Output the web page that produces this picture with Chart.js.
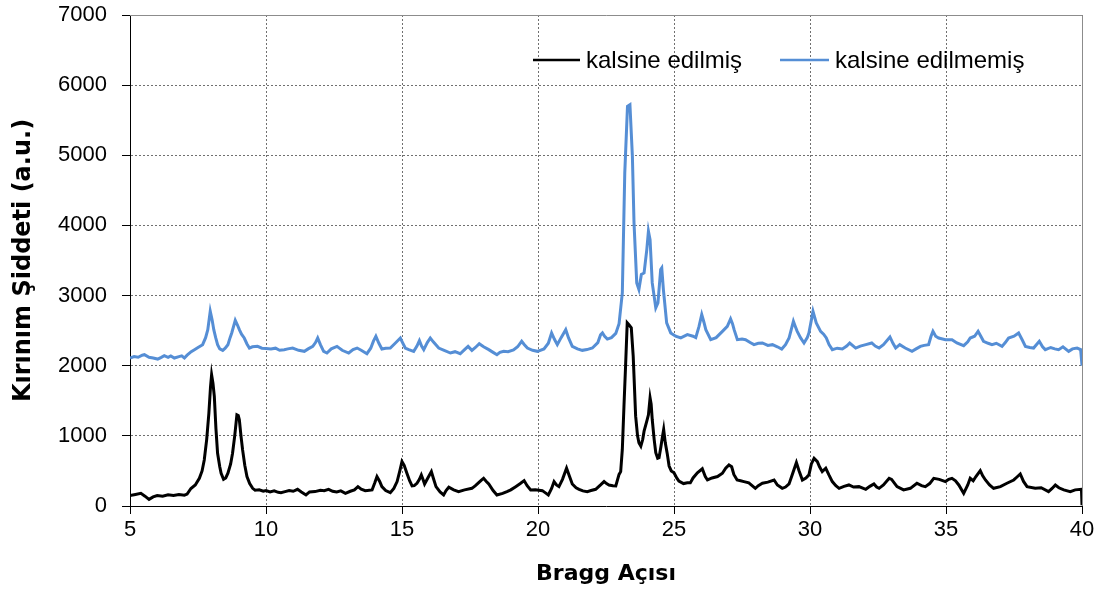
<!DOCTYPE html>
<html>
<head>
<meta charset="utf-8">
<title>XRD</title>
<script src="https://cdn.jsdelivr.net/npm/chart.js@4.4.1/dist/chart.umd.min.js"></script>
<style>
    html, body { margin: 0; padding: 0; background: #fff; }
    #wrap { width: 1101px; height: 592px; }
</style>
</head>
<body>
<div id="wrap"><canvas id="xrd" width="1101" height="592"></canvas></div>
<script>
const seriesNames = ["kalsine edilmiş", "kalsine edilmemiş"];
const xTicks = [5, 10, 15, 20, 25, 30, 35, 40];
const yTicks = [0, 1000, 2000, 3000, 4000, 5000, 6000, 7000];

// kalsine edilmiş (black)
const calcinedX = [5.0, 5.2, 5.4, 5.55, 5.7, 5.85, 6.0, 6.2, 6.4, 6.6, 6.8, 7.0, 7.1, 7.24, 7.4, 7.55, 7.65, 7.73, 7.82, 7.9,
    7.96, 8.0, 8.05, 8.1, 8.16, 8.22, 8.3, 8.35, 8.44, 8.52, 8.6, 8.7, 8.77, 8.85, 8.93, 8.98, 9.02, 9.08, 9.14, 9.22,
    9.3, 9.4, 9.51, 9.6, 9.75, 9.9, 10.0, 10.15, 10.3, 10.45, 10.55, 10.7, 10.85, 11.0, 11.16, 11.3, 11.47, 11.6, 11.8, 12.0,
    12.14, 12.3, 12.45, 12.6, 12.75, 12.92, 13.1, 13.25, 13.38, 13.5, 13.65, 13.8, 13.9, 14.0, 14.08, 14.18, 14.26, 14.4, 14.57, 14.7,
    14.82, 14.92, 15.0, 15.08, 15.18, 15.28, 15.37, 15.45, 15.55, 15.64, 15.71, 15.77, 15.83, 15.95, 16.08, 16.15, 16.25, 16.4, 16.53, 16.62,
    16.72, 16.9, 17.08, 17.3, 17.57, 17.7, 17.82, 17.92, 18.0, 18.1, 18.19, 18.35, 18.49, 18.7, 18.86, 19.0, 19.18, 19.35, 19.49, 19.6,
    19.73, 19.9, 20.16, 20.3, 20.38, 20.5, 20.59, 20.68, 20.77, 20.9, 21.05, 21.15, 21.26, 21.4, 21.51, 21.65, 21.81, 21.95, 22.12, 22.3,
    22.43, 22.52, 22.61, 22.75, 22.86, 22.98, 23.04, 23.1, 23.16, 23.22, 23.28, 23.35, 23.43, 23.5, 23.59, 23.66, 23.71, 23.78, 23.85, 23.9,
    24.0, 24.06, 24.12, 24.16, 24.2, 24.27, 24.33, 24.4, 24.45, 24.52, 24.58, 24.62, 24.68, 24.75, 24.82, 24.9, 25.0, 25.1, 25.18, 25.35,
    25.49, 25.6, 25.7, 25.86, 26.04, 26.15, 26.23, 26.4, 26.6, 26.78, 26.9, 27.02, 27.12, 27.2, 27.32, 27.45, 27.57, 27.75, 27.99, 28.1,
    28.25, 28.45, 28.68, 28.8, 28.98, 29.1, 29.23, 29.35, 29.5, 29.6, 29.72, 29.85, 29.96, 30.05, 30.15, 30.27, 30.35, 30.45, 30.58, 30.7,
    30.82, 30.95, 31.07, 31.25, 31.43, 31.6, 31.8, 32.05, 32.2, 32.35, 32.45, 32.54, 32.7, 32.91, 33.0, 33.2, 33.44, 33.69, 33.93, 34.1,
    34.24, 34.4, 34.55, 34.75, 34.98, 35.1, 35.22, 35.35, 35.47, 35.65, 35.8, 35.89, 36.0, 36.1, 36.26, 36.35, 36.45, 36.6, 36.75, 37.0,
    37.24, 37.49, 37.6, 37.73, 37.85, 37.98, 38.28, 38.5, 38.77, 38.9, 39.02, 39.15, 39.33, 39.57, 39.75, 39.98, 40.0];
const calcinedY = [150, 165, 180, 140, 95, 130, 150, 140, 160, 150, 165, 155, 170, 250, 300, 395, 500, 657, 950, 1324,
    1700, 1871, 1750, 1562, 1100, 752, 560, 467, 381, 400, 467, 600, 752, 1000, 1300, 1290, 1229, 1000, 800, 580,
    419, 320, 252, 225, 230, 210, 219, 200, 215, 195, 190, 205, 220, 210, 238, 200, 157, 200, 205, 225,
    219, 238, 210, 200, 215, 181, 210, 230, 276, 240, 219, 225, 229, 330, 419, 350, 276, 220, 190, 250,
    348, 500, 633, 580, 467, 360, 286, 290, 324, 380, 443, 380, 314, 400, 490, 400, 276, 200, 157, 220,
    267, 230, 205, 230, 252, 290, 333, 370, 395, 350, 314, 220, 157, 180, 205, 230, 276, 320, 362, 290,
    229, 230, 219, 180, 157, 250, 348, 300, 276, 380, 538, 430, 314, 260, 238, 215, 205, 220, 238, 300,
    348, 320, 300, 290, 286, 450, 490, 806, 1419, 2000, 2611, 2580, 2540, 2136, 1281, 1000, 901, 854, 950, 1067,
    1210, 1300, 1542, 1450, 1233, 950, 759, 680, 688, 850, 1000, 1091, 900, 750, 569, 500, 474, 400, 355, 320,
    331, 330, 400, 474, 530, 420, 371, 400, 420, 467, 540, 586, 560, 450, 371, 360, 348, 330, 252, 290,
    324, 340, 371, 300, 252, 270, 314, 450, 619, 500, 371, 400, 443, 600, 681, 633, 560, 490, 538, 440,
    348, 290, 252, 280, 300, 270, 276, 238, 280, 314, 270, 252, 300, 395, 380, 276, 229, 252, 324, 290,
    276, 320, 395, 380, 348, 380, 395, 360, 300, 181, 300, 395, 360, 420, 505, 430, 371, 300, 252, 276,
    324, 371, 410, 457, 350, 276, 252, 260, 205, 250, 300, 260, 229, 205, 230, 238, 10];

// kalsine edilmemiş (blue)
const rawX = [5.0, 5.15, 5.3, 5.45, 5.53, 5.7, 5.85, 6.02, 6.15, 6.26, 6.4, 6.5, 6.63, 6.8, 6.9, 7.0, 7.1, 7.25, 7.37, 7.5,
    7.67, 7.78, 7.86, 7.95, 8.02, 8.08, 8.15, 8.22, 8.3, 8.41, 8.5, 8.6, 8.68, 8.74, 8.87, 8.95, 9.02, 9.1, 9.2, 9.3,
    9.39, 9.5, 9.69, 9.85, 10.0, 10.18, 10.35, 10.5, 10.67, 10.8, 10.98, 11.2, 11.41, 11.55, 11.72, 11.82, 11.9, 12.0, 12.12, 12.24,
    12.4, 12.61, 12.8, 13.04, 13.2, 13.35, 13.5, 13.71, 13.85, 13.95, 14.04, 14.15, 14.26, 14.4, 14.57, 14.75, 14.94, 15.02, 15.12, 15.25,
    15.43, 15.55, 15.64, 15.72, 15.8, 15.93, 16.04, 16.15, 16.35, 16.55, 16.78, 16.95, 17.14, 17.3, 17.43, 17.57, 17.7, 17.84, 18.0, 18.19,
    18.35, 18.49, 18.6, 18.74, 18.9, 19.1, 19.25, 19.4, 19.5, 19.61, 19.8, 19.98, 20.22, 20.38, 20.5, 20.6, 20.71, 20.85, 21.02, 21.12,
    21.26, 21.45, 21.63, 21.8, 22.0, 22.2, 22.3, 22.37, 22.45, 22.55, 22.7, 22.86, 22.98, 23.1, 23.19, 23.29, 23.38, 23.47, 23.53, 23.63,
    23.71, 23.8, 23.9, 24.0, 24.06, 24.12, 24.2, 24.33, 24.41, 24.51, 24.55, 24.61, 24.73, 24.88, 25.06, 25.25, 25.49, 25.7, 25.8, 25.92,
    26.02, 26.1, 26.17, 26.35, 26.55, 26.78, 26.96, 27.08, 27.15, 27.21, 27.33, 27.5, 27.63, 27.8, 27.94, 28.1, 28.25, 28.45, 28.62, 28.8,
    28.96, 29.1, 29.23, 29.39, 29.46, 29.53, 29.65, 29.78, 29.9, 29.96, 30.05, 30.11, 30.23, 30.39, 30.5, 30.6, 30.7, 30.82, 31.0, 31.19,
    31.35, 31.46, 31.68, 31.85, 32.05, 32.27, 32.4, 32.54, 32.7, 32.94, 33.05, 33.15, 33.3, 33.5, 33.75, 33.9, 34.06, 34.2, 34.36, 34.45,
    34.52, 34.62, 34.73, 34.98, 35.22, 35.4, 35.65, 35.8, 35.89, 36.05, 36.18, 36.28, 36.38, 36.55, 36.69, 36.85, 37.06, 37.18, 37.3, 37.5,
    37.67, 37.8, 37.92, 38.08, 38.22, 38.43, 38.55, 38.65, 38.85, 39.0, 39.14, 39.3, 39.51, 39.65, 39.82, 39.95, 40.0];
const rawY = [2110, 2130, 2120, 2150, 2157, 2120, 2110, 2095, 2120, 2143, 2120, 2140, 2110, 2130, 2140, 2110, 2150, 2200, 2229, 2260,
    2300, 2400, 2514, 2776, 2650, 2514, 2400, 2300, 2240, 2219, 2250, 2300, 2400, 2467, 2648, 2580, 2514, 2450, 2395, 2310,
    2252, 2270, 2276, 2250, 2245, 2238, 2250, 2220, 2229, 2240, 2252, 2220, 2205, 2240, 2276, 2330, 2395, 2300, 2205, 2181,
    2240, 2276, 2220, 2181, 2230, 2252, 2220, 2171, 2250, 2350, 2419, 2320, 2238, 2250, 2252, 2320, 2395, 2330, 2252, 2230,
    2205, 2280, 2357, 2280, 2229, 2330, 2395, 2340, 2252, 2220, 2181, 2200, 2171, 2230, 2276, 2219, 2260, 2314, 2270, 2229,
    2190, 2157, 2190, 2205, 2200, 2225, 2270, 2348, 2300, 2252, 2220, 2205, 2238, 2320, 2467, 2380, 2300, 2400, 2514, 2400,
    2276, 2240, 2219, 2230, 2252, 2330, 2440, 2467, 2420, 2380, 2400, 2460, 2600, 3038, 4748, 5698, 5722, 4986, 4036, 3181,
    3086, 3300, 3323, 3656, 3917, 3798, 3181, 2825, 2896, 3371, 3394, 3086, 2611, 2468, 2421, 2397, 2444, 2420, 2400, 2560,
    2729, 2620, 2514, 2371, 2400, 2490, 2562, 2667, 2600, 2514, 2371, 2380, 2371, 2330, 2300, 2320, 2324, 2290, 2300, 2270,
    2238, 2300, 2395, 2633, 2560, 2490, 2400, 2324, 2400, 2467, 2650, 2776, 2610, 2490, 2450, 2395, 2300, 2229, 2250, 2238,
    2280, 2324, 2252, 2280, 2300, 2324, 2280, 2252, 2300, 2410, 2320, 2252, 2300, 2252, 2205, 2240, 2276, 2290, 2300, 2420,
    2490, 2420, 2395, 2371, 2371, 2324, 2286, 2340, 2395, 2420, 2490, 2420, 2348, 2320, 2300, 2320, 2276, 2330, 2395, 2420,
    2467, 2370, 2276, 2260, 2252, 2348, 2270, 2229, 2260, 2240, 2229, 2270, 2205, 2240, 2252, 2230, 2000];

const colors = ["#000000", "#558ED5"];
const fontFamily = '"Liberation Sans", Arial, Helvetica, sans-serif';
const titleFamily = '"DejaVu Sans", Verdana, sans-serif';
Chart.defaults.font.family = fontFamily;
Chart.defaults.color = "#000";

const toPoints = (xs, ys) => xs.map((x, i) => ({ x: x, y: ys[i] }));

// gray frame on top and right, like the original plot area
const frame = {
    id: "frame",
    beforeDatasetsDraw(chart) {
        const { ctx, chartArea: a } = chart;
        ctx.save();
        ctx.strokeStyle = "#8c8c8c";
        ctx.lineWidth = 1;
        ctx.beginPath();
        ctx.moveTo(a.left, a.top + 0.5);
        ctx.lineTo(a.right + 0.5, a.top + 0.5);
        ctx.lineTo(a.right + 0.5, a.bottom);
        ctx.stroke();
        ctx.restore();
    }
};

// legend drawn inside the plot area
const insideLegend = {
    id: "insideLegend",
    afterDraw(chart) {
        const ctx = chart.ctx;
        const items = [
            { x1: 533, x2: 580, tx: 586 },
            { x1: 780, x2: 829, tx: 835 }
        ];
        const y = 60;
        ctx.save();
        ctx.font = "24px " + fontFamily;
        ctx.textBaseline = "middle";
        ctx.fillStyle = "#000";
        chart.data.datasets.forEach((ds, i) => {
            const it = items[i];
            ctx.strokeStyle = ds.borderColor;
            ctx.lineWidth = 2.5;
            ctx.beginPath();
            ctx.moveTo(it.x1, y);
            ctx.lineTo(it.x2, y);
            ctx.stroke();
            ctx.fillText(ds.label, it.tx, y + 1);
        });
        ctx.restore();
    }
};

new Chart(document.getElementById("xrd"), {
    type: "line",
    data: {
        datasets: [
            {
                label: seriesNames[0],
                data: toPoints(calcinedX, calcinedY),
                borderColor: colors[0],
                borderWidth: 3,
                pointRadius: 0,
                tension: 0,
                fill: false
            },
            {
                label: seriesNames[1],
                data: toPoints(rawX, rawY),
                borderColor: colors[1],
                borderWidth: 3,
                pointRadius: 0,
                tension: 0,
                fill: false
            }
        ]
    },
    options: {
        responsive: false,
        animation: false,
        devicePixelRatio: 1,
        layout: { padding: { left: 0, right: 19, top: 15, bottom: 0 } },
        plugins: {
            legend: { display: false },
            tooltip: { enabled: false }
        },
        scales: {
            x: {
                type: "linear",
                min: xTicks[0],
                max: xTicks[xTicks.length - 1],
                afterBuildTicks: (s) => { s.ticks = xTicks.map(v => ({ value: v })); },
                afterFit: (s) => { s.height = 86; },
                ticks: { font: { size: 22 }, color: "#000", padding: 3, maxRotation: 0 },
                grid: { color: "#707070", lineWidth: 1, tickColor: "#000", tickLength: 8, tickBorderDash: [] },
                border: { color: "#000", width: 1, dash: [2, 2] },
                title: {
                    display: true,
                    text: "Bragg Açısı",
                    font: { family: titleFamily, size: 22, weight: "bold" },
                    color: "#000",
                    padding: { top: 5, bottom: 5 }
                }
            },
            y: {
                min: yTicks[0],
                max: yTicks[yTicks.length - 1],
                afterBuildTicks: (s) => { s.ticks = yTicks.map(v => ({ value: v })); },
                afterFit: (s) => { s.width = 130; s.paddingTop = 0; s.paddingBottom = 0; },
                ticks: { font: { size: 22 }, color: "#000", padding: 15, callback: (v) => String(v) },
                grid: { color: "#707070", lineWidth: 1, tickColor: "#000", tickLength: 8, tickBorderDash: [] },
                border: { color: "#000", width: 1, dash: [2, 2] },
                title: {
                    display: true,
                    text: "Kırınım Şiddeti (a.u.)",
                    font: { family: titleFamily, size: 24, weight: "bold" },
                    color: "#000",
                    padding: { top: 9, bottom: 9 }
                }
            }
        }
    },
    plugins: [frame, insideLegend]
});
</script>
</body>
</html>
